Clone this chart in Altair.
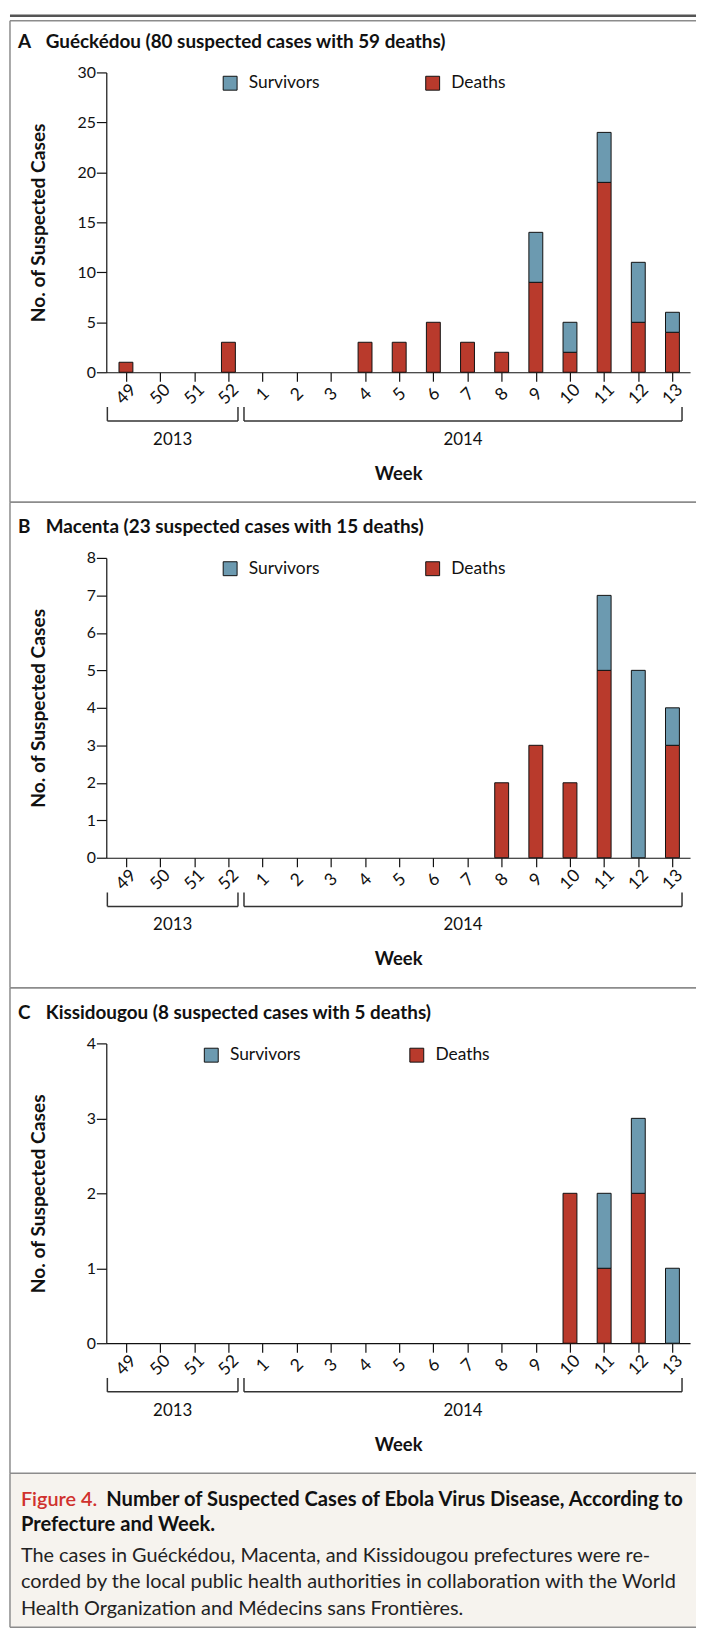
import json
import altair as alt
import pandas as pd

# ---------------- data ----------------
weeks = ["49", "50", "51", "52", "1", "2", "3", "4", "5", "6", "7", "8", "9", "10", "11", "12", "13"]
years = ["2013", "2014"]
year_first_week = [0, 4]     # index into weeks
year_last_week = [3, 16]

letters = ["A", "B", "C"]
titles = [
    "Guéckédou (80 suspected cases with 59 deaths)",
    "Macenta (23 suspected cases with 15 deaths)",
    "Kissidougou (8 suspected cases with 5 deaths)",
]
deaths = [
    [1, 0, 0, 3, 0, 0, 0, 3, 3, 5, 3, 2, 9, 2, 19, 5, 4],
    [0, 0, 0, 0, 0, 0, 0, 0, 0, 0, 0, 2, 3, 2, 5, 0, 3],
    [0, 0, 0, 0, 0, 0, 0, 0, 0, 0, 0, 0, 0, 2, 1, 2, 0],
]
survivors = [
    [0, 0, 0, 0, 0, 0, 0, 0, 0, 0, 0, 0, 5, 3, 5, 6, 2],
    [0, 0, 0, 0, 0, 0, 0, 0, 0, 0, 0, 0, 0, 0, 2, 5, 1],
    [0, 0, 0, 0, 0, 0, 0, 0, 0, 0, 0, 0, 0, 0, 1, 1, 1],
]
y_max = [30, 8, 4]
y_step = [5, 1, 1]
series = ["Survivors", "Deaths"]

caption_label = "Figure 4."
caption_title = [
    "Number of Suspected Cases of Ebola Virus Disease, According to",
    "Prefecture and Week.",
]
caption_body = [
    "The cases in Guéckédou, Macenta, and Kissidougou prefectures were re-",
    "corded by the local public health authorities in collaboration with the World",
    "Health Organization and Médecins sans Frontières.",
]

# ---------------- styles ----------------
FONT = "Lato"
RED = "#b93a2c"
BLUE = "#6c9ab0"
BORDER = "#8c8c8c"
INK = "#111111"
W, H = 588, 302
LEFT, RIGHT = -97, 594
BOTTOM = 433
CAP_BOTTOM = 588

one = pd.DataFrame({"k": [0]})
label_expr = json.dumps(weeks) + "[datum.value]"
xscale = alt.Scale(domain=[-0.43, 16.37], nice=False, zero=False)
xaxis = alt.Axis(
    values=list(range(len(weeks))), labelExpr=label_expr, labelAngle=315,
    labelAlign="center", labelBaseline="middle", labelPadding=13, tickSize=9,
    labelFontSize=17.5, labelOverlap=False, labelFlush=False,
    titleY=102, titleBaseline="middle", titleFontSize=18.5, titleFontWeight="bold",
    grid=False,
)


def deco_rule(x, x2, y, y2, color=BORDER, width=1.5):
    return alt.Chart(one).mark_rule(color=color, strokeWidth=width).encode(
        x=alt.value(x), x2=alt.value(x2), y=alt.value(y), y2=alt.value(y2)
    )


def deco_text(x, y, text, size=19, weight="bold", color=INK):
    return alt.Chart(one).mark_text(
        align="left", baseline="alphabetic", font=FONT, fontSize=size,
        fontWeight=weight, color=color
    ).encode(x=alt.value(x), y=alt.value(y), text=alt.value(text))


def panel(i):
    rows = []
    for j, w in enumerate(weeks):
        if deaths[i][j] > 0:
            rows.append({"idx": j, "week": w, "status": "Deaths", "count": deaths[i][j], "ord": 0})
        if survivors[i][j] > 0:
            rows.append({"idx": j, "week": w, "status": "Survivors", "count": survivors[i][j], "ord": 1})
    df = pd.DataFrame(rows)

    bars = alt.Chart(df).mark_bar(size=14, stroke=INK, strokeWidth=1).encode(
        x=alt.X("idx:Q", scale=xscale, title="Week", axis=xaxis),
        y=alt.Y(
            "count:Q", stack="zero", title="No. of Suspected Cases",
            scale=alt.Scale(domain=[0, y_max[i]], nice=False),
            axis=alt.Axis(
                values=list(range(0, y_max[i] + 1, y_step[i])), tickSize=10, labelPadding=1,
                labelFontSize=16, grid=False,
                titleX=-68, titleY=H / 2, titleAngle=270, titleAlign="center",
                titleBaseline="middle", titleFontSize=19.3, titleFontWeight="bold",
            ),
        ),
        color=alt.Color(
            "status:N",
            scale=alt.Scale(domain=series, range=[BLUE, RED]),
            legend=alt.Legend(
                title=None, orient="none", legendX=116 if i < 2 else 97, legendY=2 if i < 2 else 3,
                direction="horizontal", symbolType="square", symbolSize=196,
                symbolStrokeColor=INK, symbolStrokeWidth=1, symbolOpacity=1,
                labelFontSize=17.5, labelFont=FONT, labelColor=INK, labelOffset=10,
                columnPadding=104 if i < 2 else 107, padding=0,
            ),
        ),
        order=alt.Order("ord:Q"),
    )

    br = pd.DataFrame({
        "year": years,
        "x0": [f - 0.544 for f in year_first_week],
        "x1": [l + 0.28 for l in year_last_week],
    })
    br["mid"] = (br["x0"] + br["x1"]) / 2
    bracket_h = alt.Chart(br).mark_rule(color="#333", strokeWidth=1.5).encode(
        x=alt.X("x0:Q", scale=xscale, title="Week", axis=xaxis), x2="x1:Q", y=alt.value(H + 49)
    )
    bracket_l = alt.Chart(br).mark_rule(color="#333", strokeWidth=1.5).encode(
        x=alt.X("x0:Q", scale=xscale, title="Week", axis=xaxis), y=alt.value(H + 35), y2=alt.value(H + 49)
    )
    bracket_r = alt.Chart(br).mark_rule(color="#333", strokeWidth=1.5).encode(
        x=alt.X("x1:Q", scale=xscale, title="Week", axis=xaxis), y=alt.value(H + 35), y2=alt.value(H + 49)
    )
    year_txt = alt.Chart(br).mark_text(
        font=FONT, fontSize=17, color=INK, baseline="middle", align="center"
    ).encode(x=alt.X("mid:Q", scale=xscale, title="Week", axis=xaxis), y=alt.value(H + 68), text="year:N")

    top = -52 if i == 0 else -56
    layers = [bars]
    if i == 2:
        layers.append(
            alt.Chart(one).mark_rect(color="#f6f3ee").encode(
                x=alt.value(LEFT), x2=alt.value(RIGHT), y=alt.value(BOTTOM), y2=alt.value(CAP_BOTTOM)
            )
        )
    layers += [
        deco_rule(LEFT, LEFT, top, BOTTOM),
        deco_rule(LEFT, RIGHT, top, top),
        deco_rule(LEFT, RIGHT, BOTTOM, BOTTOM),
    ]
    if i == 0:
        layers.append(deco_rule(LEFT, RIGHT, -57, -57, color="#555555", width=2.5))
    if i == 2:
        layers += [
            deco_rule(LEFT, LEFT, BOTTOM, CAP_BOTTOM),
            deco_rule(LEFT, RIGHT, CAP_BOTTOM, CAP_BOTTOM),
            deco_text(-86, 466, caption_label, size=20, weight=600, color="#d0312d"),
            deco_text(0, 466, caption_title[0], size=20.3, weight="bold"),
            deco_text(-86, 491, caption_title[1], size=20.3, weight="bold"),
            deco_text(-86, 522, caption_body[0], size=20, weight="normal", color="#222"),
            deco_text(-86, 549, caption_body[1], size=20, weight="normal", color="#222"),
            deco_text(-86, 576, caption_body[2], size=20, weight="normal", color="#222"),
        ]
    layers += [
        deco_text(-89, -25, letters[i]),
        deco_text(-61, -25, titles[i]),
        bracket_h, bracket_l, bracket_r, year_txt,
    ]
    return alt.layer(*layers).properties(width=W, height=H)


chart = (
    alt.vconcat(panel(0), panel(1), panel(2), spacing=187, bounds="flush")
    .resolve_scale(x="independent", y="independent", color="independent")
    .resolve_legend(color="independent")
    .properties(padding=0)
    .configure(font=FONT)
    .configure_view(stroke="transparent")
    .configure_axis(
        domainColor=INK, tickColor=INK, labelColor=INK, titleColor=INK,
        labelFont=FONT, titleFont=FONT, domainWidth=1.2, tickWidth=1.2,
    )
    .configure_axisX(labelFontSize=17.5)
)

chart.save("out.html", embed_options={"renderer": "svg", "actions": False})
